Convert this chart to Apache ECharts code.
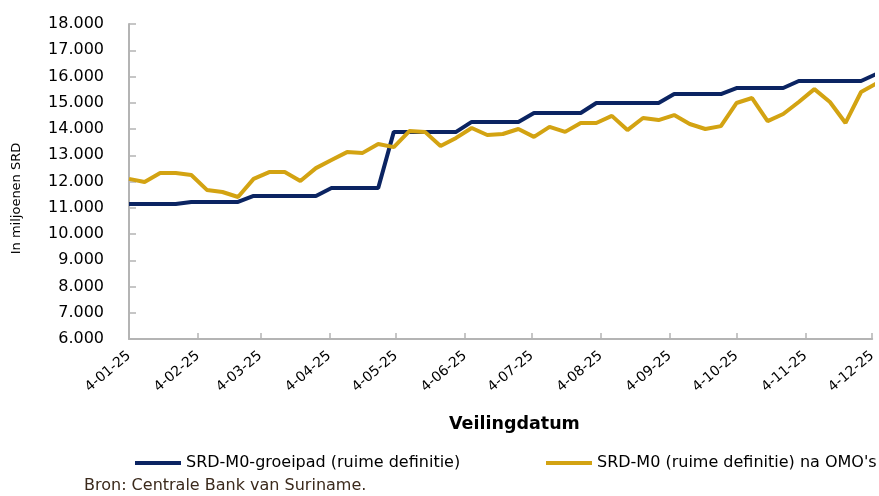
<!DOCTYPE html>
<html>
<head>
<meta charset="utf-8">
<script src="https://cdn.jsdelivr.net/npm/echarts@6/dist/echarts.min.js"></script>
<style>
  html, body { margin: 0; padding: 0; background: #fff; }
  #chart { width: 879px; height: 496px; }
</style>
</head>
<body>
<div id="chart"></div>
<script>
// weekly auction dates (veilingdatum)
const dates = [
  '2025-01-04', '2025-01-11', '2025-01-18', '2025-01-25',
  '2025-02-01', '2025-02-08', '2025-02-15', '2025-02-22',
  '2025-03-01', '2025-03-08', '2025-03-15', '2025-03-22', '2025-03-29',
  '2025-04-05', '2025-04-12', '2025-04-19', '2025-04-26',
  '2025-05-03', '2025-05-10', '2025-05-17', '2025-05-24', '2025-05-31',
  '2025-06-07', '2025-06-14', '2025-06-21', '2025-06-28',
  '2025-07-05', '2025-07-12', '2025-07-19', '2025-07-26',
  '2025-08-02', '2025-08-09', '2025-08-16', '2025-08-23', '2025-08-30',
  '2025-09-06', '2025-09-13', '2025-09-20', '2025-09-27',
  '2025-10-04', '2025-10-11', '2025-10-18', '2025-10-25',
  '2025-11-01', '2025-11-08', '2025-11-15', '2025-11-22', '2025-11-29',
  '2025-12-06'
];

// in miljoenen SRD
const groeipad = [
  11140, 11140, 11140, 11140,
  11220, 11220, 11220, 11220,
  11450, 11450, 11450, 11450, 11450,
  11750, 11750, 11750, 11750,
  13890, 13890, 13890, 13890, 13890,
  14270, 14270, 14270, 14270,
  14610, 14610, 14610, 14610,
  14990, 14990, 14990, 14990, 14990,
  15330, 15330, 15330, 15330,
  15560, 15560, 15560, 15560,
  15830, 15830, 15830, 15830, 15830,
  16100
];

const naOmo = [
  12100, 11980, 12320, 12320,
  12250, 11680, 11600, 11410,
  12100, 12360, 12360, 12020, 12510,
  12820, 13120, 13090, 13430,
  13310, 13920, 13890, 13350, 13660,
  14040, 13770, 13810, 14000,
  13700, 14080, 13890, 14230,
  14230, 14500, 13960, 14420, 14340,
  14530, 14190, 14000, 14110,
  14990, 15180, 14300, 14570,
  15030, 15520, 15030, 14230, 15410,
  15740
];

const tickDates = [
  '2025-01-04', '2025-02-04', '2025-03-04', '2025-04-04', '2025-05-04', '2025-06-04',
  '2025-07-04', '2025-08-04', '2025-09-04', '2025-10-04', '2025-11-04', '2025-12-04'
];

const seriesNames = ['SRD-M0-groeipad (ruime definitie)', "SRD-M0 (ruime definitie) na OMO's"];

// dates as day numbers (UTC) so the axis is a plain value axis
function toDay(s) {
  const p = s.split('-').map(Number);
  return Date.UTC(p[0], p[1] - 1, p[2]) / 86400000;
}
function fmtDate(v) {
  const d = new Date(Math.round(v) * 86400000);
  const mm = String(d.getUTCMonth() + 1).padStart(2, '0');
  const yy = String(d.getUTCFullYear()).slice(2);
  return d.getUTCDate() + '-' + mm + '-' + yy;
}
function fmtNum(v) {
  return String(v).replace(/\B(?=(\d{3})+(?!\d))/g, '.');
}

const font = "'DejaVu Sans', sans-serif";
const tickDays = tickDates.map(toDay);
const axisGray = '#b4b4b4';

const chart = echarts.init(document.getElementById('chart'));
chart.setOption({
  animation: false,
  backgroundColor: '#fff',
  grid: { left: 129, right: 0, top: 24, bottom: 157 },
  xAxis: {
    type: 'value',
    min: toDay('2025-01-04'),
    max: toDay('2025-12-04'),
    splitLine: { show: false },
    axisLine: { lineStyle: { color: axisGray, width: 2 } },
    axisTick: { show: true, inside: true, length: 6, customValues: tickDays, lineStyle: { color: axisGray, width: 1.5 } },
    axisLabel: {
      customValues: tickDays,
      formatter: fmtDate,
      rotate: 40,
      margin: 15,
      color: '#000',
      fontSize: 14,
      fontFamily: font
    }
  },
  yAxis: {
    type: 'value',
    min: 6000,
    max: 18000,
    interval: 1000,
    name: 'In miljoenen SRD',
    nameLocation: 'middle',
    nameGap: 106,
    nameTextStyle: { color: '#000', fontSize: 13, fontFamily: font, padding: [0, 34, 0, 0] },
    splitLine: { show: false },
    axisLine: { show: true, lineStyle: { color: axisGray, width: 2 } },
    axisTick: { show: true, inside: true, length: 7, lineStyle: { color: axisGray, width: 1.5 } },
    axisLabel: { margin: 25, color: '#000', fontSize: 16, fontFamily: font, formatter: fmtNum }
  },
  legend: [
    {
      data: [seriesNames[0]], left: 130, top: 450, icon: 'rect', itemWidth: 46, itemHeight: 4,
      textStyle: { color: '#000', fontSize: 16, fontFamily: font }
    },
    {
      data: [seriesNames[1]], left: 541, top: 450, icon: 'rect', itemWidth: 46, itemHeight: 4,
      textStyle: { color: '#000', fontSize: 16, fontFamily: font }
    }
  ],
  graphic: [
    {
      type: 'text', left: 449, top: 415,
      style: { text: 'Veilingdatum', fill: '#000', font: "bold 17.5px 'DejaVu Sans', sans-serif" }
    },
    {
      type: 'text', left: 84, top: 478,
      style: { text: 'Bron: Centrale Bank van Suriname.', fill: '#3b2a1c', fontSize: 16, fontFamily: font }
    }
  ],
  series: [
    {
      name: seriesNames[0],
      type: 'line',
      symbol: 'none',
      color: '#0b2462',
      lineStyle: { width: 4, color: '#0b2462' },
      data: dates.map((d, i) => [toDay(d), groeipad[i]])
    },
    {
      name: seriesNames[1],
      type: 'line',
      symbol: 'none',
      color: '#d3a312',
      lineStyle: { width: 4, color: '#d3a312' },
      data: dates.map((d, i) => [toDay(d), naOmo[i]])
    }
  ]
});
</script>
</body>
</html>
